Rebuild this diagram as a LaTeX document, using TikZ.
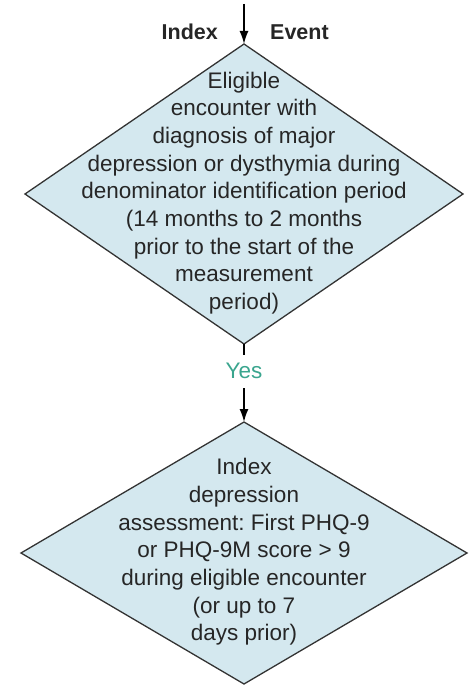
\documentclass[tikz,border=0pt]{standalone}
\usepackage{fontspec}
\setmainfont{Liberation Sans}
\usetikzlibrary{shapes.geometric,arrows.meta}
\frenchspacing
\definecolor{dfill}{HTML}{D4E8EF}
\definecolor{dline}{HTML}{333333}
\definecolor{dtext}{HTML}{262626}
\definecolor{yescol}{HTML}{3AA58E}
\tikzset{
  dbox/.style={shape=diamond, draw=dline, fill=dfill, line width=1.3pt, inner sep=0pt, outer sep=0pt},
  dtxt/.style={align=center, text=dtext, font=\fontsize{22.5}{27.7}\selectfont, inner sep=0pt},
  lbl/.style={font=\fontsize{21.5}{24}\selectfont\bfseries, text=dtext},
  arr/.style={-{Latex[length=13pt,width=9pt]}, line width=1.6pt, draw=black},
  ln/.style={line width=1.6pt, draw=black}
}
\begin{document}
\begin{tikzpicture}[x=1pt,y=-1pt]
\useasboundingbox (0,0) rectangle (469,687);
\node[dbox, minimum width=438pt, minimum height=300pt] (d1) at (244,194) {};
\node[dtxt] (t1) at (244,193) {Eligible\\encounter with\\diagnosis of major\\depression or dysthymia during\\denominator identification period\\(14 months to 2 months\\prior to the start of the\\measurement\\period)};
\node[dbox, minimum width=446pt, minimum height=262pt] (d2) at (244,553) {};
\node[dtxt] (t2) at (244,552) {Index\\depression\\assessment: First PHQ-9\\or PHQ-9M score > 9\\during eligible encounter\\(or up to 7\\days prior)};
\coordinate (start) at (244,4);
\node[lbl, anchor=east, inner sep=0pt] (idx) at (218,32) {Index};
\node[lbl, anchor=west, inner sep=0pt] (evt) at (270,32) {Event};
\node[font=\fontsize{22.5}{26}\selectfont, text=yescol, inner sep=0pt] (yes) at (244,371) {Yes};
\draw[arr] (start) -- (d1.north);
\draw[ln] (d1.south) -- ([yshift=8pt]yes.north);
\draw[arr] ([yshift=-9pt]yes.south) -- (d2.north);
\end{tikzpicture}
\end{document}
